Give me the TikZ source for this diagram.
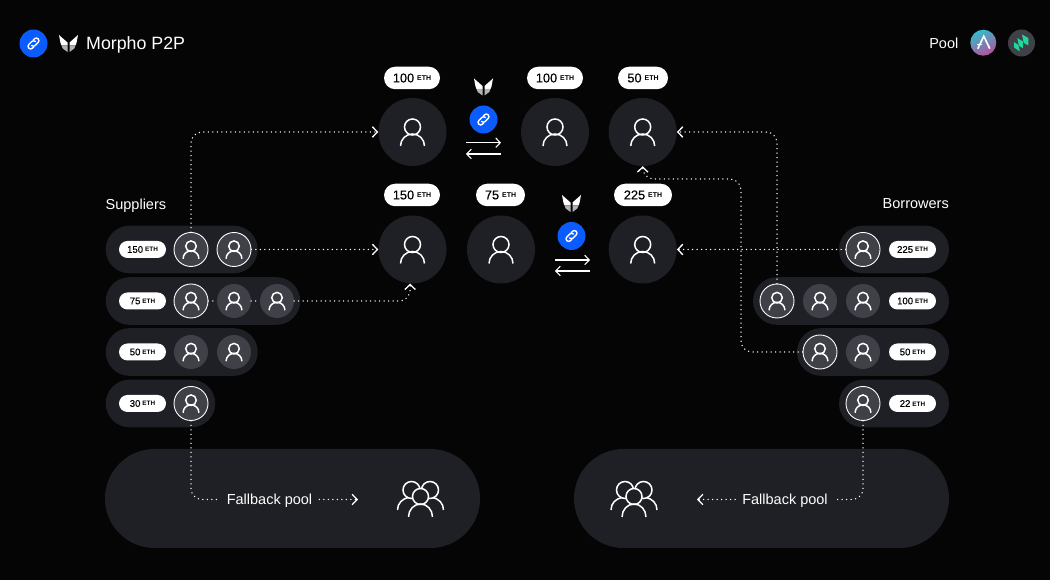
\documentclass[tikz,border=0pt]{standalone}
\usepackage{fontspec}
\setmainfont{Liberation Sans}
\usetikzlibrary{arrows.meta,shapes.misc}
\definecolor{bgblack}{HTML}{050505}
\definecolor{bargray}{HTML}{1E2025}
\definecolor{headgray}{HTML}{3F4048}
\definecolor{linkblue}{HTML}{0B5CFF}
\definecolor{compgreen}{HTML}{1FD8A0}
\definecolor{aaveteal}{HTML}{35BBC8}
\definecolor{aavepink}{HTML}{B6509E}
\newcommand{\ethbig}[1]{{\addfontfeature{FakeBold=.25}\fontsize{12.8}{14}\selectfont #1}\hspace{3pt}\raisebox{1.5pt}{\fontsize{7}{8}\selectfont\bfseries ETH}}
\newcommand{\ethsmall}[1]{{\addfontfeature{FakeBold=.35}\fontsize{9.6}{10}\selectfont #1}\hspace{2pt}\raisebox{.8pt}{\fontsize{6.4}{7}\selectfont\bfseries ETH}}
\tikzset{
 bar/.style={rounded rectangle,fill=bargray,minimum height=47.6,inner sep=0},
 bigc/.style={circle,fill=bargray,minimum size=68,inner sep=0},
 smallc/.style={circle,fill=headgray,minimum size=34,inner sep=0},
 pickc/.style={smallc,draw=white,line width=.9},
 tagbig/.style={rounded rectangle,fill=white,text=black,minimum height=22.5,inner sep=0},
 tagsmall/.style={rounded rectangle,fill=white,text=black,minimum height=17,minimum width=47,inner sep=0},
 label/.style={text=white,inner sep=0,text depth=0pt,font=\fontsize{14.5}{15}\selectfont},
 bluec/.style={circle,fill=linkblue,minimum size=28,inner sep=0},
 iconline/.style={draw=white,line width=1.5},
 dotplain/.style={white,line width=1.5,line cap=round,dash pattern=on 0pt off 4.5pt,rounded corners=11},
 dotline/.style={dotplain,-{Straight Barb[length=5pt,width=10.5pt,line width=1.3pt]}},
 flow/.style={white,line width=1.1,-{Straight Barb[length=4.5pt,width=9.5pt]}},
 person/.pic={\draw[iconline] (0,5) circle (8); \draw[iconline] (-12,-14) arc (180:0:12);},
 group/.pic={
  \draw[iconline] (-9,9) circle (8.5); \draw[iconline] (9.5,9) circle (8.5);
  \draw[iconline,fill=bargray] (0,2.5) circle (8);
  \draw[iconline] (-23,-11) .. controls (-23,-4) and (-18,0) .. (-12.5,1.5);
  \draw[iconline] (23,-11) .. controls (23,-4) and (18,0) .. (12.5,1.5);
  \draw[iconline] (-12,-18) arc (180:0:12 and 13);},
 wings/.pic={
  \foreach \s in {1,-1}{
   \fill[white,xscale=\s] (-9.5,8.5) -- (-1,1) -- (-1,-2) -- (-7,-2) -- (-8,.5) -- cycle;
   \fill[white!70!black,xscale=\s] (-7,-2) -- (-1,-2) -- (-1,-8.5) -- (-5.8,-5) -- cycle;}},
 chain/.pic={
  \foreach \r in {45,225}
   \draw[white,line width=1.4,line cap=round,rotate=\r,scale=1.1] (-1.8,-2.4) -- (-3.6,-2.4) arc (270:90:2.4) -- (0.1,2.4) arc (90:0:2.4);},
 aavemark/.pic={
  \shade[left color=aaveteal,right color=aavepink,shading angle=25] (0,0) circle (13);
  \draw[white,line width=1.6] (-5.5,-6) -- (.5,6.5) -- (6.5,-6);
  \draw[white,line width=1.2] (-6.5,-1.5) -- (-1.5,-1.5);},
 compmark/.pic={
  \fill[headgray] (0,0) circle (13.5);
  \fill[compgreen] (.5,8.5) -- (6.8,5) -- (6.8,-2.5) -- (2.2,.2) -- cycle;
  \fill[compgreen] (-4.2,5) -- (1.4,1.5) -- (1.4,-5.2) -- (-2.6,-2.8) -- cycle;
  \fill[compgreen] (-7.4,.8) -- (-3.2,-1.8) -- (-1.6,-8.3) -- (-7.4,-4.6) -- cycle;},
}
\begin{document}
\begin{tikzpicture}[x=1pt,y=1pt]
\fill[bgblack] (0,0) rectangle (1050,580);
\useasboundingbox (0,0) rectangle (1050,580);
% header
\node[bluec] (hlink) at (33.5,536.5) {}; \pic at (hlink) {chain};
\coordinate (hlogo) at (68.5,536.5); \pic at (hlogo) {wings};
\node[text=white,inner sep=0,text depth=0pt,anchor=west,font=\fontsize{17.8}{18}\selectfont] (title) at (86,536.5) {Morpho P2P};
\node[label,anchor=east] (pool) at (958.5,537) {Pool};
\pic at (983.3,537.3) {aavemark}; \pic at (1021.5,537) {compmark};
% middle
\node[bigc] (b1) at (412.5,448) {}; \node[bigc] (b2) at (555,448) {}; \node[bigc] (b3) at (642.7,448) {};
\node[bigc] (b4) at (412.5,330.5) {}; \node[bigc] (b5) at (501,330.5) {}; \node[bigc] (b6) at (642.7,330.5) {};
\foreach \n in {b1,b2,b3,b4,b5,b6} \pic at (\n) {person};
\node[tagbig,minimum width=56] (t1) at (412,502) {\ethbig{100}};
\node[tagbig,minimum width=56] (t2) at (555,502) {\ethbig{100}};
\node[tagbig,minimum width=50] (t3) at (643,502) {\ethbig{50}};
\node[tagbig,minimum width=56] (t4) at (412,385) {\ethbig{150}};
\node[tagbig,minimum width=49] (t5) at (500.5,385) {\ethbig{75}};
\node[tagbig,minimum width=58] (t6) at (643,385) {\ethbig{225}};
\coordinate (logoa) at (483.5,493); \pic at (logoa) {wings};
\coordinate (logob) at (571.5,376.5); \pic at (logob) {wings};
\node[bluec] (linka) at (483.5,460.5) {}; \pic at (linka) {chain};
\node[bluec] (linkb) at (571.5,344) {}; \pic at (linkb) {chain};
\coordinate (fa1) at (466,437.3); \coordinate (fa2) at (501,437.3); \coordinate (fa3) at (501,426); \coordinate (fa4) at (466,426);
\coordinate (fb1) at (555,320); \coordinate (fb2) at (590,320); \coordinate (fb3) at (590,309); \coordinate (fb4) at (555,309);
\draw[flow] (fa1) -- (fa2); \draw[flow] (fa3) -- (fa4); \draw[flow] (fb1) -- (fb2); \draw[flow] (fb3) -- (fb4);
% suppliers
\node[label,anchor=west] (sup) at (105.5,376) {Suppliers};
\node[bar,minimum width=152] (sb1) at (181.7,330.5) {};
\node[bar,minimum width=194.5] (sb2) at (203,279) {};
\node[bar,minimum width=152] (sb3) at (181.7,228) {};
\node[bar,minimum width=109.5] (sb4) at (160.5,176.5) {};
\node[tagsmall] (st1) at (142.5,330.5) {\ethsmall{150}}; \node[tagsmall] (st2) at (142.5,279) {\ethsmall{75}};
\node[tagsmall] (st3) at (142.5,228) {\ethsmall{50}}; \node[tagsmall] (st4) at (142.5,176.5) {\ethsmall{30}};
\node[pickc] (s11) at (191,330.5) {}; \node[pickc] (s12) at (234,330.5) {};
\node[pickc] (s21) at (191,279) {}; \node[smallc] (s22) at (234,279) {}; \node[smallc] (s23) at (277,279) {};
\node[smallc] (s31) at (191,228) {}; \node[smallc] (s32) at (234,228) {};
\node[pickc] (s41) at (191,176.5) {};
\foreach \n in {s11,s12,s21,s22,s23,s31,s32,s41} \pic[scale=.66] at (\n) {person};
% borrowers
\node[label,anchor=east] (bor) at (949,376) {Borrowers};
\node[bar,minimum width=110] (rb1) at (894,330.5) {};
\node[bar,minimum width=196] (rb2) at (851,279) {};
\node[bar,minimum width=152] (rb3) at (873,228) {};
\node[bar,minimum width=110] (rb4) at (894,176.5) {};
\node[tagsmall] (rt1) at (912.5,330.5) {\ethsmall{225}}; \node[tagsmall] (rt2) at (912.5,279) {\ethsmall{100}};
\node[tagsmall] (rt3) at (912.5,228) {\ethsmall{50}}; \node[tagsmall] (rt4) at (912.5,176.5) {\ethsmall{22}};
\node[pickc] (r11) at (863,330.5) {};
\node[pickc] (r21) at (777,279) {}; \node[smallc] (r22) at (820,279) {}; \node[smallc] (r23) at (863,279) {};
\node[pickc] (r31) at (820,228) {}; \node[smallc] (r32) at (863,228) {};
\node[pickc] (r41) at (863,176.5) {};
\foreach \n in {r11,r21,r22,r23,r31,r32,r41} \pic[scale=.66] at (\n) {person};
% fallback pools
\node[bar,minimum width=375,minimum height=99] (fl) at (292.5,81.5) {};
\node[bar,minimum width=375,minimum height=99] (fr) at (761.5,81.5) {};
\pic at (420.5,81) {group}; \pic at (634,81) {group};
\node[label,inner sep=7] (ftl) at (269.5,80.5) {Fallback pool};
\node[label,inner sep=7] (ftr) at (785,80.5) {Fallback pool};
\coordinate (fle) at (358,80.5); \coordinate (fre) at (697,80.5); \coordinate (bturn) at (741,401);
% connectors
\draw[dotline] (s11.north) |- (b1.west);
\draw[dotline] (s12.east) -- (b4.west);
\draw[dotplain] (s21.east) -- (s22.west); \draw[dotplain] (s22.east) -- (s23.west);
\draw[dotline] (s23.east) -| (b4.-94);
\draw[dotline] (r11.west) -- (b6.east);
\draw[dotline] (r21.north) |- (b3.east);
\draw[dotline] (r31.west) -| (bturn) -| (b3.south);
\draw[dotplain] (s41.south) |- (ftl.west); \draw[dotline] (ftl.east) -- (fle);
\draw[dotplain] (r41.south) |- (ftr.east); \draw[dotline] (ftr.west) -- (fre);
\end{tikzpicture}
\end{document}
